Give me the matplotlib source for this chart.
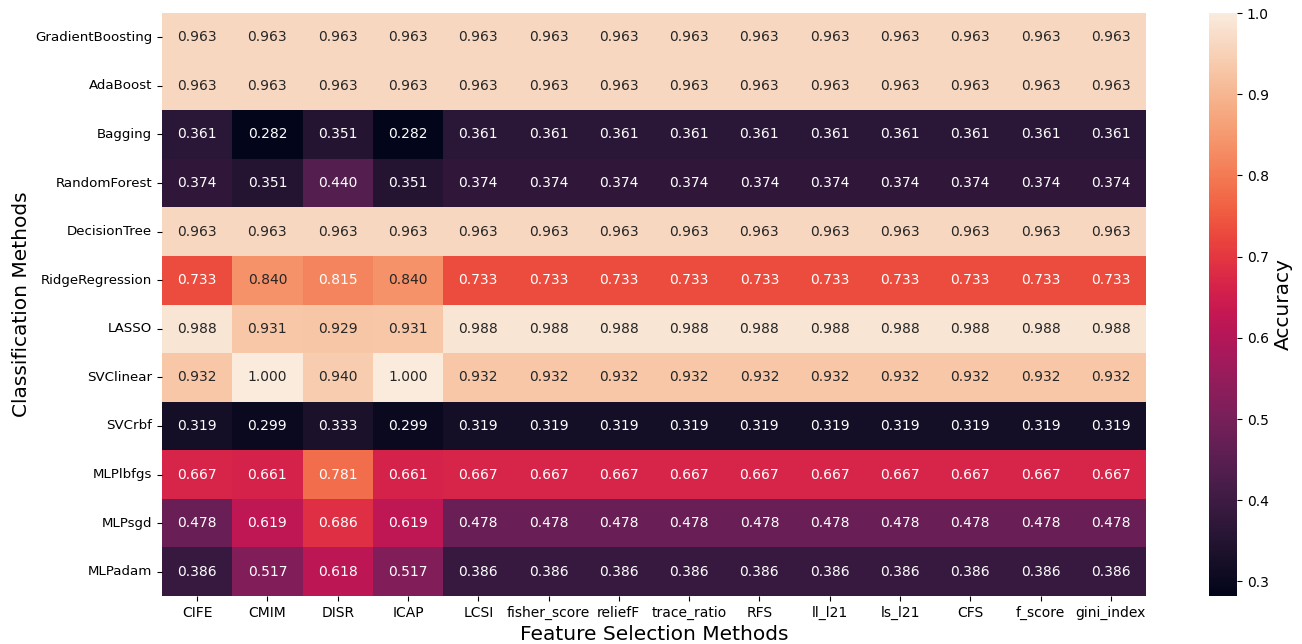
import numpy as np
import pandas as pd
import matplotlib
matplotlib.use("Agg")
import matplotlib.pyplot as plt
import seaborn as sns

fs_methods = ['CIFE', 'CMIM', 'DISR', 'ICAP', 'LCSI', 'fisher_score', 'reliefF',
              'trace_ratio', 'RFS', 'll_l21', 'ls_l21', 'CFS', 'f_score', 'gini_index']
clf_methods = ['GradientBoosting', 'AdaBoost', 'Bagging', 'RandomForest', 'DecisionTree',
               'RidgeRegression', 'LASSO', 'SVClinear', 'SVCrbf', 'MLPlbfgs', 'MLPsgd', 'MLPadam']

# accuracy for CIFE, CMIM, DISR, ICAP; the remaining ten selectors score like CIFE
acc_cife = [0.963, 0.963, 0.361, 0.374, 0.963, 0.733, 0.988, 0.932, 0.319, 0.667, 0.478, 0.386]
acc_cmim = [0.963, 0.963, 0.282, 0.351, 0.963, 0.840, 0.931, 1.000, 0.299, 0.661, 0.619, 0.517]
acc_disr = [0.963, 0.963, 0.351, 0.440, 0.963, 0.815, 0.929, 0.940, 0.333, 0.781, 0.686, 0.618]
acc_icap = [0.963, 0.963, 0.282, 0.351, 0.963, 0.840, 0.931, 1.000, 0.299, 0.661, 0.619, 0.517]

cols = [acc_cife, acc_cmim, acc_disr, acc_icap] + [acc_cife] * 10
df = pd.DataFrame(np.array(cols).T, index=clf_methods, columns=fs_methods)

fig = plt.figure(figsize=(13.02, 6.44), dpi=100)
ax = fig.add_axes([0.1244, 0.0745, 0.7558, 0.9053])
cax = fig.add_axes([0.9286, 0.0745, 0.0215, 0.9053])

sns.heatmap(df, annot=True, fmt='.3f', ax=ax, cbar_ax=cax,
            annot_kws={'fontsize': 10})
cax.set_ylabel('Accuracy', fontsize=14.5)
cax.tick_params(labelsize=10)

ax.set_xlabel('Feature Selection Methods', fontsize=14.5)
ax.set_ylabel('Classification Methods', fontsize=14.5, labelpad=3)
ax.tick_params(axis='y', labelsize=9.6)
ax.tick_params(axis='x', labelsize=10)
plt.setp(ax.get_xticklabels(), rotation=0)
plt.setp(ax.get_yticklabels(), rotation=0)

fig.savefig('out.png', dpi=100)
